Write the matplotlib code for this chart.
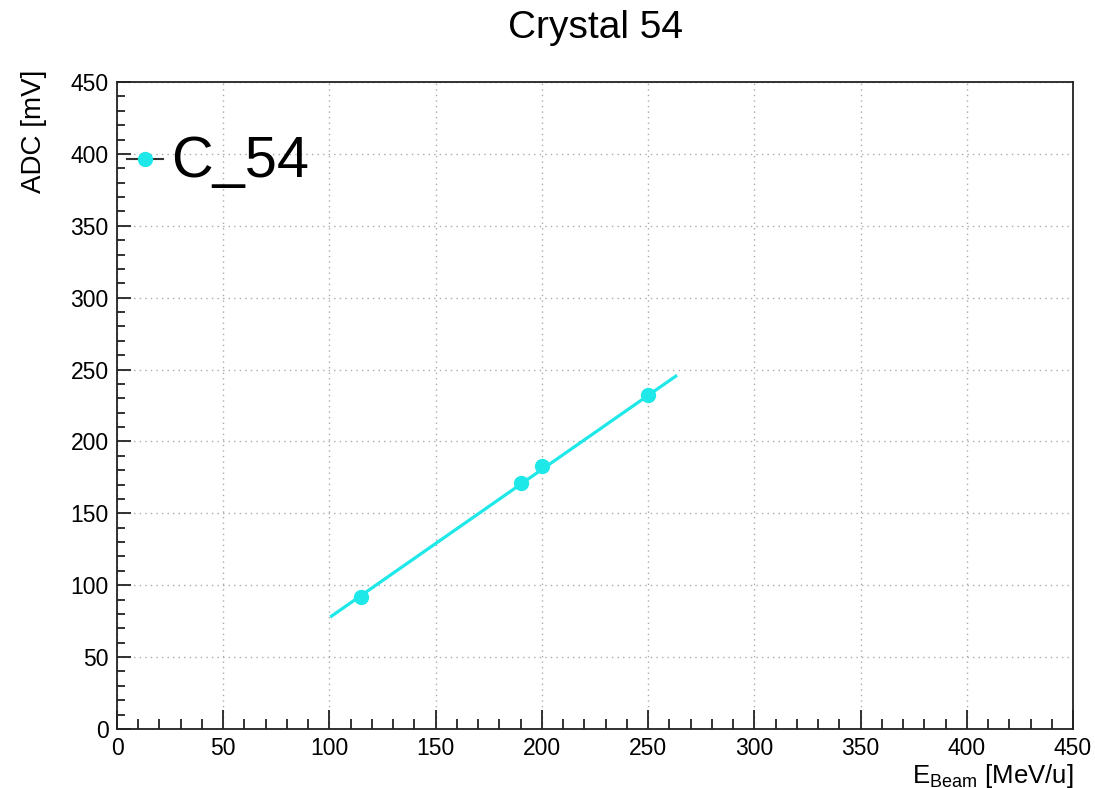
import matplotlib
matplotlib.use("Agg")
import matplotlib.pyplot as plt
from matplotlib.lines import Line2D
from matplotlib.ticker import MultipleLocator
import numpy as np

plt.rcParams['font.family'] = ['Liberation Sans', 'DejaVu Sans']
plt.rcParams['mathtext.fontset'] = 'custom'
plt.rcParams['mathtext.rm'] = 'Liberation Sans'

# Data
e_beam = [115, 190, 200, 250]          # MeV/u
adc = [92, 171, 183, 232]              # mV
fit_slope = 1.03
fit_intercept = -25.5
fit_range = [101, 263]
series_label = "C_54"
title = "Crystal 54"

cyan = '#1ee8e8'

fig = plt.figure(figsize=(10.95, 7.88), dpi=100)
ax = fig.add_axes([117/1095, 59/788, (1073-117)/1095, (729-82)/788])

ax.set_xlim(0, 450)
ax.set_ylim(0, 450)

# fit line
xf = np.array(fit_range, dtype=float)
ax.plot(xf, fit_slope*xf + fit_intercept, color=cyan, lw=2.3, zorder=3)
# points
ax.plot(e_beam, adc, linestyle='none', marker='o', ms=10, color=cyan, zorder=4)

ax.xaxis.set_major_locator(MultipleLocator(50))
ax.xaxis.set_minor_locator(MultipleLocator(10))
ax.yaxis.set_major_locator(MultipleLocator(50))
ax.yaxis.set_minor_locator(MultipleLocator(10))
ax.tick_params(which='both', direction='in', top=False, right=False, width=1.3, color='#222222')
ax.tick_params(which='major', labelsize=16.5, pad=6)
ax.tick_params(axis='x', which='major', length=14)
ax.tick_params(axis='x', which='minor', length=7)
ax.tick_params(axis='y', which='major', length=10)
ax.tick_params(axis='y', which='minor', length=5.5)
for s in ax.spines.values():
    s.set_linewidth(1.3)
    s.set_color('#222222')

ax.grid(True, which='major', linestyle=(0, (1, 3)), color='#aaaaaa', lw=1.0)
ax.set_axisbelow(True)

ax.set_title(title, fontsize=28, pad=31.5)
ax.set_ylabel("ADC [mV]", fontsize=20, loc='top')
ax.yaxis.set_label_coords(-0.073, 1.0185)
ax.set_xlabel(r"E$_{\mathregular{Beam}}$ [MeV/u]", fontsize=18.5, loc='right', labelpad=1)

handle = Line2D([], [], color='#333333', lw=1.5, marker='o', ms=10, mfc=cyan, mec=cyan)
ax.legend([handle], [series_label], loc='center left', bbox_to_anchor=(0.0105, 0.876),
          fontsize=41.5, frameon=False, handlelength=0.63, handletextpad=0.13,
          handleheight=0.42, borderpad=0, borderaxespad=0)

fig.savefig("out.png", dpi=100)
